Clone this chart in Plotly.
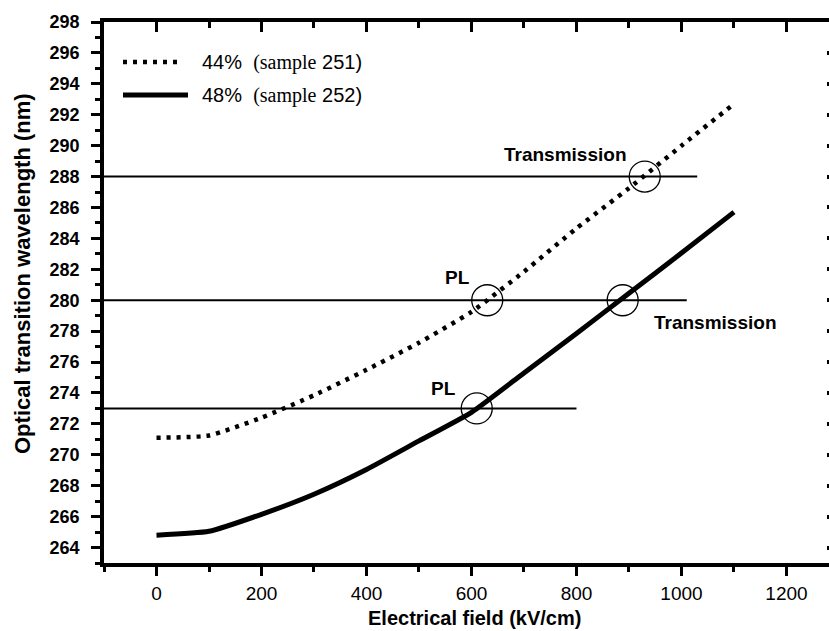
import plotly.graph_objects as go

# Electric field (kV/cm)
field = [0, 100, 200, 300, 400, 500, 600, 700, 800, 900, 1000, 1100]

# Optical transition wavelength (nm) for the two Al contents
wl_44 = [271.1, 271.25, 272.4, 273.85, 275.5, 277.25, 279.25, 281.85, 284.65, 287.25, 290.0, 292.7]
wl_48 = [264.8, 265.05, 266.15, 267.45, 269.05, 270.9, 272.75, 275.3, 277.85, 280.45, 283.05, 285.7]

series_names = [
    "44%  <span style='font-family:\"Liberation Serif\", serif'>(sample</span> 251)",
    "48%  <span style='font-family:\"Liberation Serif\", serif'>(sample</span> 252)",
]

# Measured wavelengths (PL / transmission) as horizontal reference lines
ref_levels = [288, 280, 273]
ref_end = [1030, 1010, 800]

# Crossing points highlighted with open circles
mark_x = [930, 630, 888, 610]
mark_y = [288, 280, 280, 273]

# Axis settings
x_range = [-100, 1281]
y_range = [263, 298]

FONT = "Liberation Sans, Arial, Helvetica, sans-serif"
DOT = "4px,6px"

# Plot-area geometry (pixels) used to place the hand-made legend and titles
W, H = 829, 631
ML, MR, MT, MB = 104, 0, 22, 68
PW, PH = W - ML - MR, H - MT - MB


def px_x(p):
    return (p - ML) / PW


def px_y(p):
    return (H - MB - p) / PH


fig = go.Figure()

for lvl, xe in zip(ref_levels, ref_end):
    fig.add_trace(go.Scatter(
        x=[x_range[0], xe], y=[lvl, lvl], mode="lines",
        line=dict(color="black", width=2), showlegend=False, hoverinfo="skip",
    ))

fig.add_trace(go.Scatter(
    x=field, y=wl_44, mode="lines", name=series_names[0],
    line=dict(color="black", width=4.5, dash=DOT, shape="spline", smoothing=0.5),
    showlegend=False,
))
fig.add_trace(go.Scatter(
    x=field, y=wl_48, mode="lines", name=series_names[1],
    line=dict(color="black", width=5, shape="spline", smoothing=0.5),
    showlegend=False,
))

fig.add_trace(go.Scatter(
    x=mark_x, y=mark_y, mode="markers",
    marker=dict(symbol="circle-open", size=31, color="black", line=dict(width=1.3)),
    showlegend=False, hoverinfo="skip",
))

# Invisible traces to activate the mirrored top and right axes
fig.add_trace(go.Scatter(x=[None], y=[None], xaxis="x2", yaxis="y", showlegend=False))
fig.add_trace(go.Scatter(x=[None], y=[None], xaxis="x", yaxis="y2", showlegend=False))

# Legend: line samples plus labels
legend_rows = [(62, DOT, 4.5, 180), (95, None, 5, 188)]
for (ly, dash, lw, xend), name in zip(legend_rows, series_names):
    fig.add_shape(type="line", xref="paper", yref="paper",
                  x0=px_x(123), x1=px_x(xend), y0=px_y(ly), y1=px_y(ly),
                  line=dict(color="black", width=lw, dash=dash))
    fig.add_annotation(xref="paper", yref="paper", x=px_x(200), y=px_y(ly),
                       xanchor="left", yanchor="middle", text=name, showarrow=False,
                       font=dict(family=FONT, size=20, color="black"))

labels = [
    ("Transmission", 779, 289.4),
    ("PL", 574, 281.5),
    ("Transmission", 1065, 278.55),
    ("PL", 547, 274.3),
]
for txt, ax, ay in labels:
    fig.add_annotation(x=ax, y=ay, text=f"<b>{txt}</b>", showarrow=False,
                       font=dict(family=FONT, size=19, color="black"))

# Axis titles
fig.add_annotation(xref="paper", yref="paper", x=px_x(475), y=px_y(618),
                   xanchor="center", yanchor="middle", showarrow=False,
                   text="<b>Electrical field (kV/cm)</b>",
                   font=dict(family=FONT, size=20, color="black"))
fig.add_annotation(xref="paper", yref="paper", x=px_x(22), y=px_y(274),
                   xanchor="center", yanchor="middle", showarrow=False, textangle=-90,
                   text="<b>Optical transition wavelength (nm)</b>",
                   font=dict(family=FONT, size=22, color="black"))

fig.update_layout(
    width=W, height=H,
    margin=dict(l=ML, r=MR, t=MT, b=MB),
    paper_bgcolor="white", plot_bgcolor="white",
    font=dict(family=FONT, color="black"),
    showlegend=False,
    xaxis=dict(
        range=x_range, tick0=0, dtick=200, showgrid=False, zeroline=False,
        showline=True, linewidth=3.5, linecolor="black",
        ticks="outside", ticklen=9, tickwidth=3, tickcolor="black",
        minor=dict(dtick=100, tick0=0, ticks="outside", ticklen=5, tickwidth=3, tickcolor="black"),
        tickfont=dict(family=FONT, size=19, color="black"), ticklabelstandoff=1,
    ),
    xaxis2=dict(
        range=x_range, overlaying="x", side="top", tick0=0, dtick=200,
        showgrid=False, zeroline=False, showticklabels=False,
        showline=True, linewidth=3.5, linecolor="black",
        ticks="inside", ticklen=10, tickwidth=3, tickcolor="black",
        minor=dict(dtick=100, tick0=0, ticks="inside", ticklen=6, tickwidth=3, tickcolor="black"),
    ),
    yaxis=dict(
        range=y_range, tick0=264, dtick=2, showgrid=False, zeroline=False,
        showline=True, linewidth=3.5, linecolor="black",
        ticks="outside", ticklen=9, tickwidth=3, tickcolor="black",
        minor=dict(dtick=1, tick0=264, ticks="outside", ticklen=5, tickwidth=3, tickcolor="black"),
        tickfont=dict(family=FONT, size=18, color="black", weight="bold"), ticklabelstandoff=8,
    ),
    yaxis2=dict(
        range=y_range, overlaying="y", side="right", tick0=264, dtick=2,
        showgrid=False, zeroline=False, showticklabels=False, showline=False,
        ticks="inside", ticklen=2, tickwidth=4, tickcolor="black",
    ),
)

fig.write_html("out.html")
